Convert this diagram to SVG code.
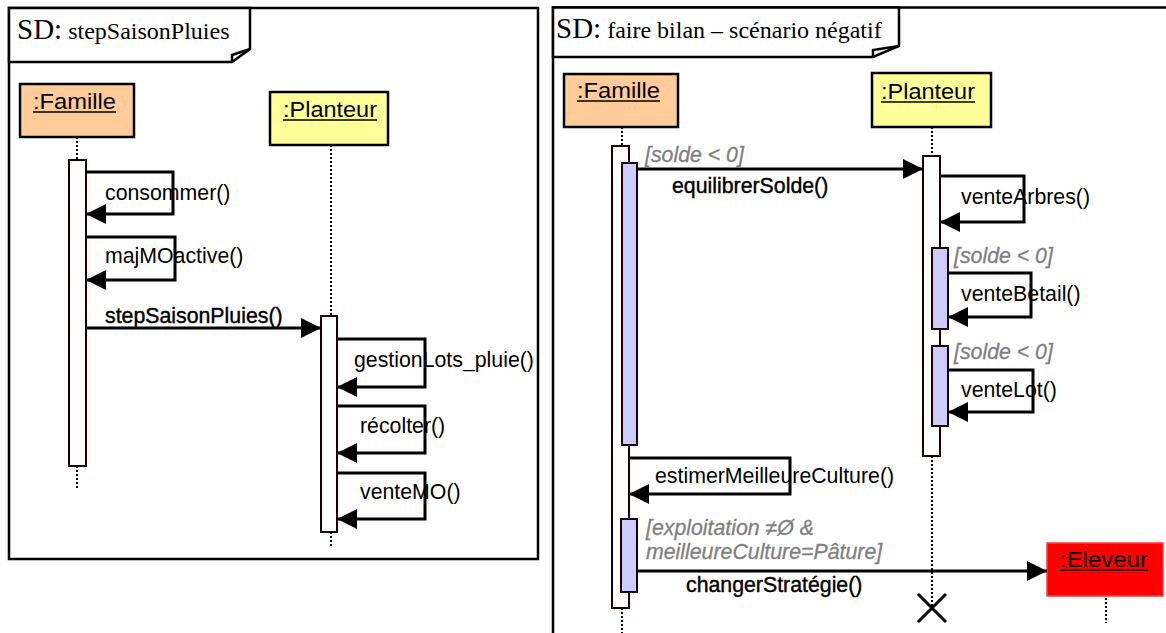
<svg xmlns="http://www.w3.org/2000/svg" width="1166" height="633" viewBox="0 0 1166 633">
<style>
.frame{fill:none;stroke:#000;stroke-width:2.5}
.title{fill:#fff;stroke:#000;stroke-width:2.5;stroke-linejoin:miter}
.ttl{font-family:"Liberation Serif","Times New Roman",serif;fill:#000}
.node{stroke:#000;stroke-width:2.5}
.lbl{font-family:"Liberation Sans",Arial,sans-serif;font-size:22px;fill:#000}
.ul{stroke:#000;stroke-width:1.6}
.life{stroke:#000;stroke-width:2;stroke-dasharray:2 2;fill:none}
.act{fill:#fff;stroke:#1a0000;stroke-width:2}
.actb{fill:#ccccff;stroke:#1a0000;stroke-width:2}
.msg{fill:none;stroke:#000;stroke-width:3;marker-end:url(#arr)}
.txt{font-family:"Liberation Sans",Arial,sans-serif;font-size:21.3px;fill:#000}
.bold{stroke:#000;stroke-width:0.4}
.guard{font-family:"Liberation Sans",Arial,sans-serif;font-size:21.3px;font-style:italic;fill:#808080;stroke:#808080;stroke-width:0.3}
</style>
<defs>
<marker id="arr" viewBox="0 0 20 20" refX="20" refY="10" markerWidth="20" markerHeight="20" markerUnits="userSpaceOnUse" orient="auto">
<path d="M0,0 L20,10 L0,20 Z" fill="#000"/>
</marker>
</defs>

<!-- Left frame -->
<g id="frame-left">
<rect class="frame" x="9" y="8" width="529" height="551"/>
<path class="title" d="M9,8 H250 V49 L232,62 H9 Z"/>
<path class="frame" d="M232,62 V55 L250,49"/>
<text class="ttl" x="17" y="39"><tspan font-size="29">SD:</tspan><tspan font-size="24"> stepSaisonPluies</tspan></text>
</g>

<!-- Right frame -->
<g id="frame-right">
<path class="frame" d="M553,640 V7.5 H1170"/>
<path class="title" d="M553,7.5 H899 V46 L873,57 H553 Z"/>
<path class="frame" d="M873,57 V50 L899,46"/>
<text class="ttl" x="556" y="38"><tspan font-size="29">SD:</tspan><tspan font-size="24"> faire bilan – scénario négatif</tspan></text>
</g>

<!-- Left diagram nodes -->
<g id="famille-left">
<rect class="node" x="20" y="84" width="114" height="53" fill="#ffcc99"/>
<text class="lbl" x="33" y="109" textLength="83" lengthAdjust="spacingAndGlyphs">:Famille</text>
<line class="ul" x1="33" y1="112" x2="116" y2="112"/>
<path class="life" d="M77,137 V160 M77,466 V488"/>
<rect class="act" x="69" y="160" width="17" height="306"/>
</g>

<g id="planteur-left">
<rect class="node" x="270" y="92" width="118" height="53" fill="#ffff99"/>
<text class="lbl" x="283" y="117" textLength="94" lengthAdjust="spacingAndGlyphs">:Planteur</text>
<line class="ul" x1="283" y1="120" x2="377" y2="120"/>
<path class="life" d="M331,145 V316 M331,532 V548"/>
<rect class="act" x="321" y="316" width="16" height="216"/>
</g>

<!-- Right diagram nodes -->
<g id="famille-right">
<rect class="node" x="564" y="74" width="114" height="53" fill="#ffcc99"/>
<text class="lbl" x="577" y="98" textLength="83" lengthAdjust="spacingAndGlyphs">:Famille</text>
<line class="ul" x1="577" y1="101" x2="660" y2="101"/>
<path class="life" d="M622,127 V146 M622,608 V633"/>
<rect class="act" x="612" y="146" width="17" height="462"/>
<rect class="actb" x="622" y="163" width="15" height="282"/>
<rect class="actb" x="621" y="519" width="16" height="73"/>
</g>

<g id="planteur-right">
<rect class="node" x="872" y="73" width="119" height="54" fill="#ffff99"/>
<text class="lbl" x="881" y="99" textLength="94" lengthAdjust="spacingAndGlyphs">:Planteur</text>
<line class="ul" x1="881" y1="102" x2="975" y2="102"/>
<path class="life" d="M932,127 V156 M932,456 V608"/>
<rect class="act" x="923" y="156" width="17" height="300"/>
<rect class="actb" x="932" y="248" width="16" height="81"/>
<rect class="actb" x="932" y="346" width="16" height="80"/>
<path d="M918,594 L946,622 M946,594 L918,622" stroke="#000" stroke-width="3" fill="none"/>
</g>

<g id="eleveur">
<rect x="1047" y="543" width="116" height="53" fill="#ff0000" stroke="#ff3c3c" stroke-width="1.5"/>
<text class="lbl" x="1060" y="567" textLength="88" lengthAdjust="spacingAndGlyphs">:Eleveur</text>
<line class="ul" x1="1060" y1="570" x2="1148" y2="570"/>
<path class="life" d="M1106,598 V623"/>
</g>

<!-- Connectors -->
<g id="connectors">
<path class="msg" d="M86,172 H173 V214 H86"/>
<path class="msg" d="M86,237 H175 V280 H86"/>
<path class="msg" d="M86,328 H321"/>
<path class="msg" d="M337,339 H425 V387 H337"/>
<path class="msg" d="M337,406 H425 V453 H337"/>
<path class="msg" d="M337,473 H425 V519 H337"/>
<path class="msg" d="M637,169 H923"/>
<path class="msg" d="M940,176 H1024 V222 H940"/>
<path class="msg" d="M948,273 H1031 V317 H948"/>
<path class="msg" d="M948,370 H1033 V412 H948"/>
<path class="msg" d="M629,458 H790 V494 H629"/>
<path class="msg" d="M637,571 H1047"/>
</g>

<!-- Message labels -->
<g id="labels">
<text class="txt" x="105" y="200">consommer()</text>
<text class="txt" x="105" y="263">majMOactive()</text>
<text class="txt bold" x="105" y="323">stepSaisonPluies()</text>
<text class="txt" x="354" y="367">gestionLots_pluie()</text>
<text class="txt" x="360" y="433">récolter()</text>
<text class="txt" x="360" y="499">venteMO()</text>
<text class="guard" x="645" y="162">[solde &lt; 0]</text>
<text class="txt bold" x="672" y="193">equilibrerSolde()</text>
<text class="txt" x="961" y="204">venteArbres()</text>
<text class="guard" x="954" y="263">[solde &lt; 0]</text>
<text class="txt" x="961" y="301">venteBetail()</text>
<text class="guard" x="954" y="359">[solde &lt; 0]</text>
<text class="txt" x="961" y="397">venteLot()</text>
<text class="txt" x="655" y="483">estimerMeilleureCulture()</text>
<text class="guard" x="646" y="535">[exploitation ≠Ø &amp;</text>
<text class="guard" x="646" y="559">meilleureCulture=Pâture]</text>
<text class="txt bold" x="686" y="592">changerStratégie()</text>
</g>
</svg>
